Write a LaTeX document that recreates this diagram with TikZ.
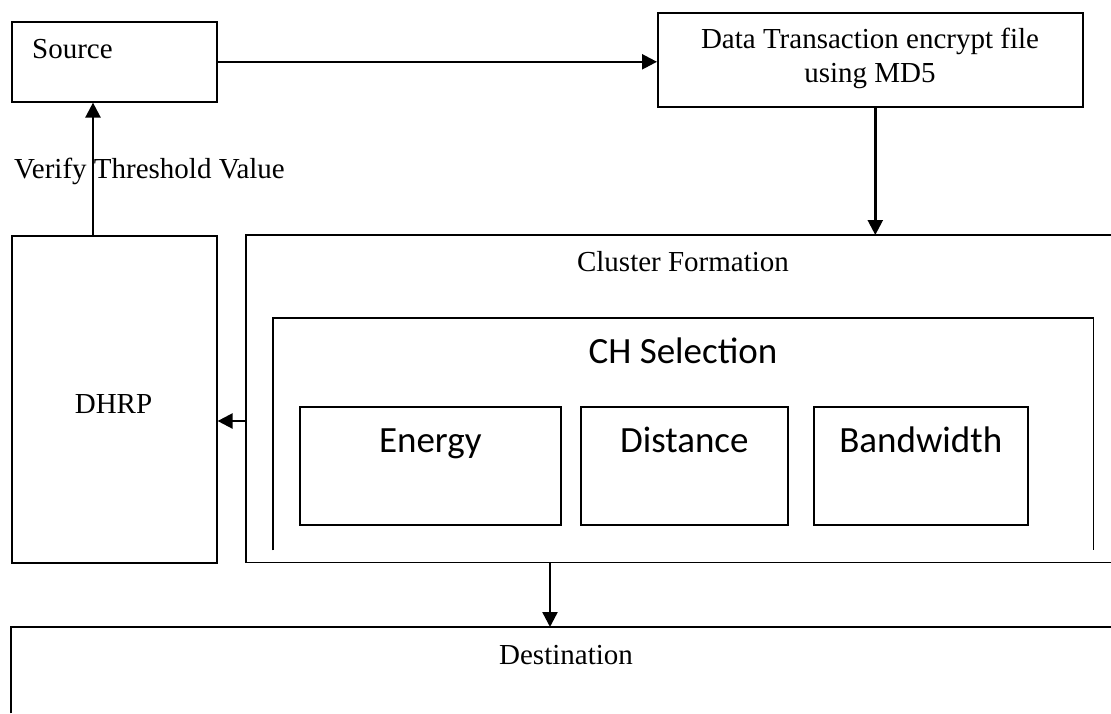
\documentclass[tikz,border=0pt]{standalone}
\usepackage{fontspec}
\setmainfont{Liberation Serif}
\newfontfamily\calibri{Carlito}
\usetikzlibrary{arrows.meta,positioning}

\begin{document}
\begin{tikzpicture}[x=1pt,y=-1pt,
		basic/.style  = {draw, line width=1.6pt, rectangle, inner sep=0pt, anchor=north west},
		frame/.style  = {rectangle, inner sep=0pt, anchor=north west},
		outline/.style = {draw, line width=1.6pt},
		serif/.style  = {font=\fontsize{29}{34}\selectfont, inner sep=0pt},
		sans/.style   = {font=\calibri\fontsize{37}{44}\selectfont, inner sep=0pt},
		link/.style   = {-{Triangle[length=15pt,width=15pt]}, line width=2.4pt}]
		
		\useasboundingbox (0,0) rectangle (1111,713);
		
		% Top row: source and encryption
		\node[basic, minimum width=205pt, minimum height=80pt] (source) at (11,21) {};
		\node[serif, anchor=base west] (source label) at (32,58) {Source};
		\node[basic, minimum width=425pt, minimum height=94pt] (data) at (657,12) {};
		\node[serif, align=center, anchor=north] (data label) at (870,28) {Data Transaction encrypt file\\using MD5};
		
		% Left column, DHRP
		\node[basic, minimum width=205pt, minimum height=327pt] (dhrp) at (11,235) {};
		\node[serif, anchor=base] (dhrp label) at (113.5,413) {DHRP};
		
		% Cluster formation, open to the right
		\node[frame, minimum width=865pt, minimum height=327pt] (cluster) at (246,235) {};
		\draw[outline] (cluster.north east) -- (cluster.north west) -- (cluster.south west) -- (cluster.south east);
		\node[serif, anchor=base] (cluster label) at (683,271) {Cluster Formation};
		
		% CH selection, open at the bottom
		\node[frame, minimum width=820pt, minimum height=232pt] (chsel) at (273,318) {};
		\draw[outline] (chsel.south west) -- (chsel.north west) -- (chsel.north east) -- (chsel.south east);
		\node[sans, anchor=base] (chsel label) at (683,363) {CH Selection};
		
		% Selection criteria
		\node[basic, minimum width=261pt, minimum height=118pt] (energy) at (299,406) {};
		\node[basic, minimum width=207pt, minimum height=118pt] (distance) at (580,406) {};
		\node[basic, minimum width=214pt, minimum height=118pt] (bandwidth) at (813,406) {};
		\foreach \name/\text in {energy/Energy, distance/Distance, bandwidth/Bandwidth}
		\node[sans, anchor=base] (\name label) at ([yshift=-46pt]\name.north) {\text};
		
		% Destination, cut at the bottom
		\node[frame, minimum width=1100pt, minimum height=86pt] (dest) at (11,627) {};
		\draw[outline] (dest.south west) -- (dest.north west) -- (dest.north east);
		\node[serif, anchor=base] (dest label) at (566,664) {Destination};
		
		% Connectors
		\draw[link] (source.east) -- (source.east -| data.west);
		\draw[link] ([xshift=5pt]data.south) -- ([xshift=5pt]data.south |- cluster.north);
		\draw[link] (cluster.west |- 0,421) -- (dhrp.east |- 0,421);
		\draw[link] (dhrp.north -| 93,0) -- (source.south -| 93,0);
		\draw[link] (cluster.south -| 550,0) -- (dest.north -| 550,0);
		
		\node[serif, anchor=base west] (verify) at (14,178) {Verify Threshold Value};
		
\end{tikzpicture}
\end{document}
